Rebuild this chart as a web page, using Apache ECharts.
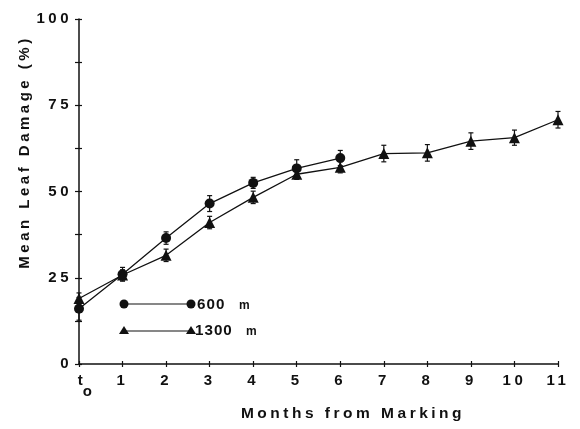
<!DOCTYPE html>
<html>
<head>
<meta charset="utf-8">
<script src="https://cdn.jsdelivr.net/npm/echarts@6/dist/echarts.min.js"></script>
<style>html,body{margin:0;padding:0;background:#fff}#c{width:580px;height:429px}</style>
</head>
<body>
<div id="c"></div>
<script>
// ---- data ----
var months = [0,1,2,3,4,5,6,7,8,9,10,11];
var xTickLabels = ['t0','1','2','3','4','5','6','7','8','9','10','11'];
var yTicks = [0,25,50,75,100];
var damage600 = [16, 26, 36.5, 46.5, 52.5, 56.7, 59.7];
var err600 = [3.3, 2, 1.8, 2.3, 1.6, 2.5, 2.2];
var damage1300 = [19, 25.8, 31.5, 41, 48.3, 55, 57, 61, 61.2, 64.6, 65.6, 70.8];
var err1300 = [1.6, 1.5, 1.8, 1.8, 1.8, 1.5, 1.6, 2.4, 2.4, 2.4, 2.2, 2.4];
var seriesNames = ['600 m', '1300 m'];

// letter spacing like the typeset original (legend text is set tighter)
(function(){
  var proto = CanvasRenderingContext2D.prototype;
  var orig = proto.fillText;
  proto.fillText = function(){
    try { this.letterSpacing = (String(this.font).indexOf('15.2px') >= 0) ? '1px' : '3.5px'; } catch(e){}
    return orig.apply(this, arguments);
  };
})();

var FONT = 'Liberation Sans';
var INK = '#111';

function pairs(vals){ return vals.map(function(v,i){ return [months[i], v]; }); }
function errData(vals, errs){ return vals.map(function(v,i){ return [months[i], v - errs[i], v + errs[i]]; }); }

function errRender(params, api){
  var x = api.value(0);
  var lo = api.coord([x, api.value(1)]);
  var hi = api.coord([x, api.value(2)]);
  var cw = 2.5;
  var st = {stroke: INK, lineWidth: 1.2};
  return {type:'group', children:[
    {type:'line', shape:{x1:lo[0],y1:lo[1],x2:hi[0],y2:hi[1]}, style:st},
    {type:'line', shape:{x1:lo[0]-cw,y1:lo[1],x2:lo[0]+cw,y2:lo[1]}, style:st},
    {type:'line', shape:{x1:hi[0]-cw,y1:hi[1],x2:hi[0]+cw,y2:hi[1]}, style:st}
  ]};
}

var xMax = months[months.length-1];
var chart = echarts.init(document.getElementById('c'), null, {renderer:'canvas'});
var axisCommon = {
  axisLine:{show:true, lineStyle:{color:INK, width:1.5}},
  splitLine:{show:false}
};
chart.setOption({
  animation:false,
  backgroundColor:'#fff',
  grid:{left:79, right:22, top:19, bottom:65},
  xAxis:[
    Object.assign({type:'value', min:0, max:xMax, interval:1,
      axisTick:{show:true, length:3, lineStyle:{color:INK, width:1.2}},
      axisLabel:{margin:9, color:INK, fontFamily:FONT, fontSize:15, fontWeight:'bold',
        formatter:function(v){ var s = xTickLabels[v]; return s === 't0' ? '{t|t}{o|o}' : s; },
        rich:{
          t:{fontFamily:FONT, fontSize:15, fontWeight:'bold', color:INK, verticalAlign:'top', lineHeight:26, padding:[0,0,0,15]},
          o:{fontFamily:FONT, fontSize:15, fontWeight:'bold', color:INK, verticalAlign:'bottom', lineHeight:26}
        }}
    }, axisCommon),
    {type:'value', min:0, max:xMax, interval:1, axisLine:{show:false}, splitLine:{show:false},
      position:'bottom', axisTick:{show:true, inside:true, length:3, lineStyle:{color:INK, width:1.2}},
      axisLabel:{show:false}}
  ],
  yAxis:[
    Object.assign({type:'value', min:yTicks[0], max:yTicks[yTicks.length-1], interval:25,
      axisTick:{show:true, length:4, lineStyle:{color:INK, width:1.2}},
      minorTick:{show:true, splitNumber:2, length:4, lineStyle:{color:INK, width:1.2}},
      axisLabel:{margin:7, color:INK, fontFamily:FONT, fontSize:15, fontWeight:'bold'}
    }, axisCommon),
    {type:'value', min:yTicks[0], max:yTicks[yTicks.length-1], interval:25, position:'left',
      axisLine:{show:false}, splitLine:{show:false},
      axisTick:{show:true, inside:true, length:3, lineStyle:{color:INK, width:1.2}},
      minorTick:{show:true, splitNumber:2, length:3, lineStyle:{color:INK, width:1.2}},
      axisLabel:{show:false}}
  ],
  title:[{text:'Months from Marking', left:348, top:401, textAlign:'center',
    textStyle:{fontFamily:FONT, fontSize:15.5, fontWeight:'bold', color:INK}}],
  graphic:[
    {type:'text', x:25, y:152, rotation:Math.PI/2,
      style:{text:'Mean Leaf Damage (%)', font:'bold 15px "Liberation Sans"', fill:INK, align:'center', verticalAlign:'middle'}},
    // legend 600 m
    {type:'line', shape:{x1:124,y1:304,x2:191,y2:304}, style:{stroke:INK, lineWidth:1.2}},
    {type:'circle', shape:{cx:124,cy:304,r:4.5}, style:{fill:INK}},
    {type:'circle', shape:{cx:191,cy:304,r:4.5}, style:{fill:INK}},
    {type:'text', x:197, y:305, style:{text:'600', font:'bold 15.2px "Liberation Sans"', fill:INK, verticalAlign:'middle'}},
    {type:'text', x:239, y:306, style:{text:'m', font:'bold 12px "Liberation Sans"', fill:INK, verticalAlign:'middle'}},
    // legend 1300 m
    {type:'line', shape:{x1:124,y1:331,x2:191,y2:331}, style:{stroke:INK, lineWidth:1.2}},
    {type:'polygon', shape:{points:[[124,326],[119,334],[129,334]]}, style:{fill:INK}},
    {type:'polygon', shape:{points:[[191,326],[186,334],[196,334]]}, style:{fill:INK}},
    {type:'text', x:195, y:331, style:{text:'1300', font:'bold 15.2px "Liberation Sans"', fill:INK, verticalAlign:'middle'}},
    {type:'text', x:246, y:332, style:{text:'m', font:'bold 12px "Liberation Sans"', fill:INK, verticalAlign:'middle'}}
  ],
  series:[
    {type:'custom', name:seriesNames[0]+' err', renderItem:errRender, data:errData(damage600, err600), z:2, silent:true},
    {type:'custom', name:seriesNames[1]+' err', renderItem:errRender, data:errData(damage1300, err1300), z:2, silent:true},
    {type:'line', name:seriesNames[0], data:pairs(damage600), symbol:'circle', symbolSize:10,
      itemStyle:{color:INK}, lineStyle:{color:INK, width:1.3}, z:3},
    {type:'line', name:seriesNames[1], data:pairs(damage1300), symbol:'triangle', symbolSize:11,
      itemStyle:{color:INK}, lineStyle:{color:INK, width:1.3}, z:3}
  ]
});
</script>
</body>
</html>
